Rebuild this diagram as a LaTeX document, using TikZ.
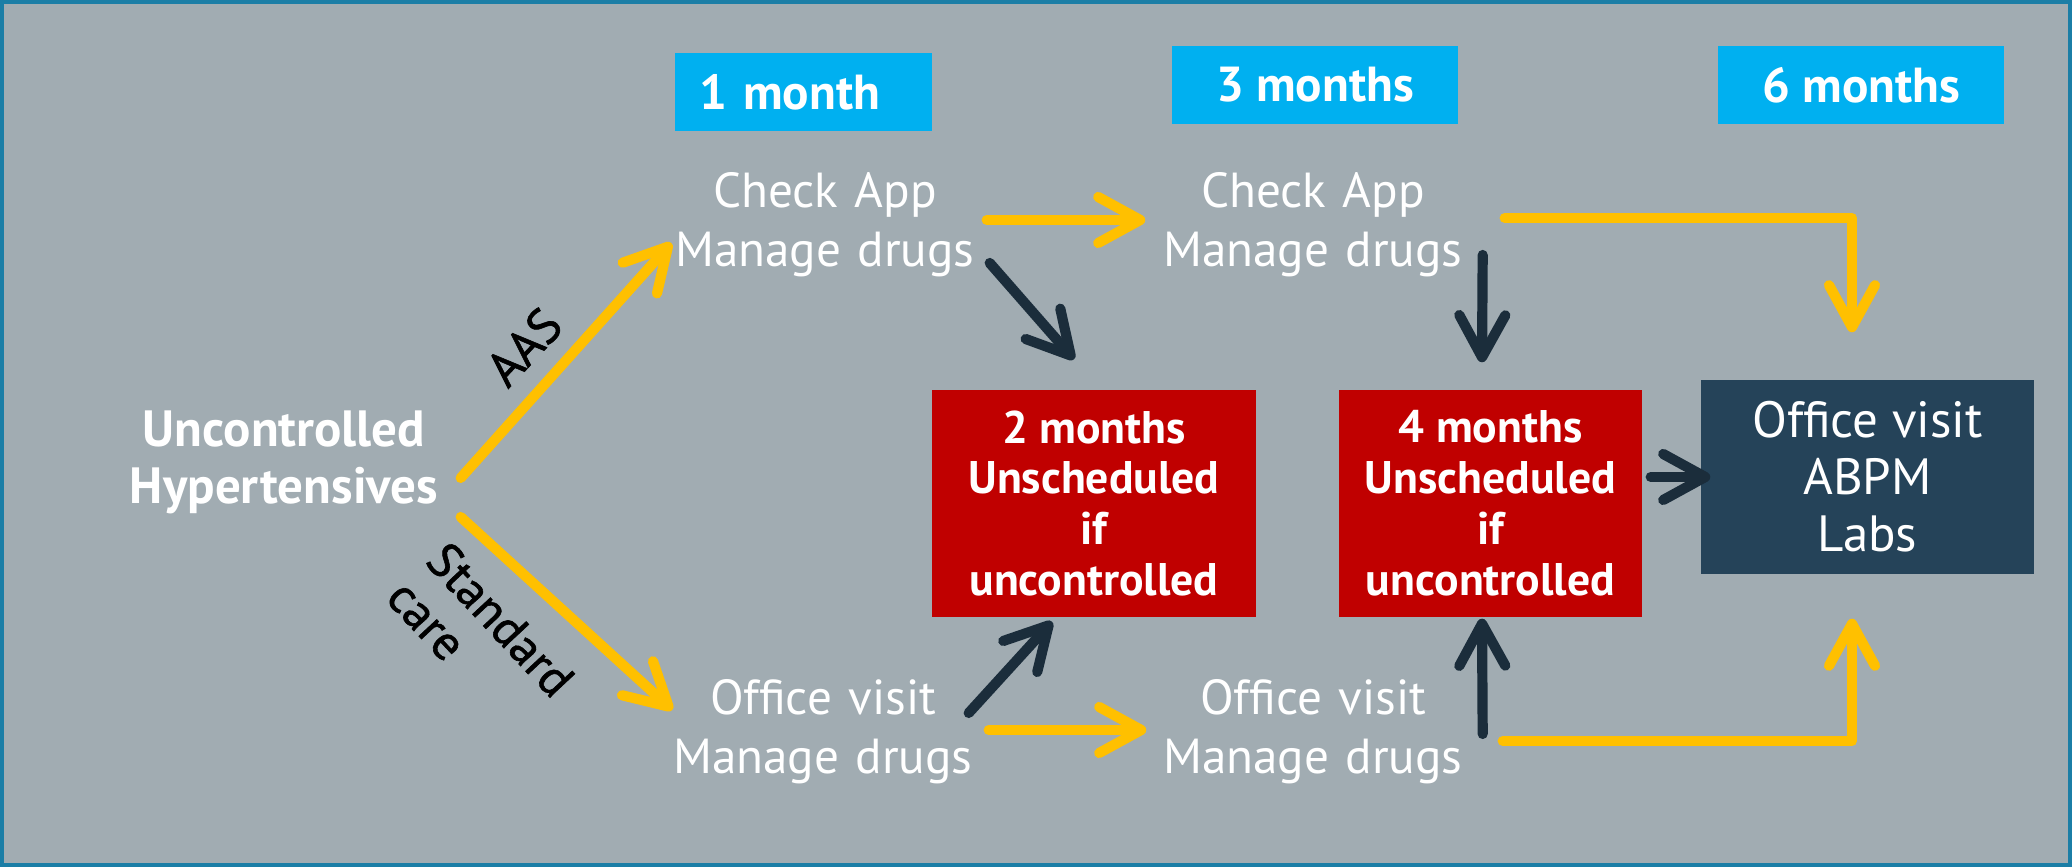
\documentclass[tikz,border=0pt]{standalone}
\usepackage{fontspec}
\setmainfont{PT Sans}
\newfontfamily\branchfont[FakeBold=1.2]{PT Sans}
\usetikzlibrary{arrows.meta}

\definecolor{bggray}{HTML}{A1ACB2}
\definecolor{frameteal}{HTML}{1B7EA6}
\definecolor{monthblue}{HTML}{00B0F0}
\definecolor{alertred}{HTML}{C00000}
\definecolor{navybox}{HTML}{254359}
\definecolor{arrowdark}{HTML}{1B2D3B}
\definecolor{arrowyellow}{HTML}{FFC000}

\tikzset{
    month/.style={fill=monthblue,text=white,inner sep=0pt,minimum height=0.78cm,
        font=\fontsize{14}{17}\selectfont\bfseries},
    visit/.style={text=white,align=center,text width=3.2cm,inner xsep=0pt,inner ysep=0.15cm,
        font=\fontsize{14}{16.8}\selectfont},
    redbox/.style={fill=alertred,text=white,align=center,minimum height=2.27cm,inner sep=0pt,
        font=\fontsize{13}{14.5}\selectfont\bfseries},
    navy/.style={fill=navybox,text=white,align=center,inner sep=0pt,
        font=\fontsize{14.5}{16.2}\selectfont},
    branch/.style={text=black,font=\branchfont\fontsize{14}{15.4}\selectfont},
    flow/.style={line width=2.9pt,line cap=round,line join=round,
        -{Straight Barb[length=4.2mm,width=4.6mm,round]}},
    yflow/.style={flow,draw=arrowyellow},
    dflow/.style={flow,draw=arrowdark}
}

\begin{document}
\begin{tikzpicture}
    \useasboundingbox (0,0) rectangle (20.72,8.67);
    \draw[frameteal,line width=1.1pt,fill=bggray] (0.02,0.02) rectangle (20.70,8.65);

    \node[month,text width=2.09cm,align=left,inner xsep=0.24cm] (m1) at (8.035,7.75) {1 month};
    \node[month,minimum width=2.86cm] (m3) at (13.15,7.82) {3 months};
    \node[month,minimum width=2.86cm] (m6) at (18.61,7.82) {6 months};

    \node[visit,text width=3.5cm,font=\fontsize{14.5}{16.2}\selectfont\bfseries] (unc) at (2.84,4.05) {Uncontrolled\\Hypertensives};
    \node[visit] (check1) at (8.25,6.42) {Check App\\Manage drugs};
    \node[visit] (check2) at (13.13,6.42) {Check App\\Manage drugs};
    \node[visit] (office1) at (8.23,1.35) {Office visit\\Manage drugs};
    \node[visit] (office2) at (13.13,1.35) {Office visit\\Manage drugs};

    \node[redbox,minimum width=3.24cm] (red1) at (10.94,3.635) {2 months\\Unscheduled\\if\\uncontrolled};
    \node[redbox,minimum width=3.03cm] (red2) at (14.905,3.635) {4 months\\Unscheduled\\if\\uncontrolled};
    \node[navy,minimum width=3.33cm,minimum height=1.94cm] (final) at (18.675,3.90) {Office visit\\ABPM\\Labs};

    \node[branch,rotate=47] (aas) at (5.24,5.20) {AAS};
    \node[branch,rotate=-47,align=left] (std) at (4.81,2.29) {Standard\\care};

    \draw[yflow] ([shift={(0.01,-0.16)}]unc.east) -- ([shift={(0.07,-0.18)}]check1.west);
    \draw[yflow] ([shift={(0.01,-0.55)}]unc.east) -- ([shift={(0.10,0.22)}]office1.west);
    \draw[yflow] ([shift={(0.01,0.05)}]check1.east) -- ([shift={(-0.07,0.05)}]check2.west);
    \draw[yflow] ([shift={(0.05,0.02)}]office1.east) -- ([shift={(-0.06,0.02)}]office2.west);
    \draw[yflow] ([shift={(0.31,0.07)}]check2.east) -| ([shift={(-0.155,0.47)}]final.north);
    \draw[yflow] ([shift={(0.29,-0.09)}]office2.east) -| ([shift={(-0.155,-0.44)}]final.south);

    \draw[dflow] ([shift={(0.04,-0.38)}]check1.east) -- ([shift={(-0.2,0.3)}]red1.north);
    \draw[dflow] ([shift={(-0.15,0.19)}]office1.east) -- ([shift={(-0.42,-0.04)}]red1.south);
    \draw[dflow] ([shift={(0.09,-0.30)}]check2.east) -- ([shift={(-0.085,0.27)}]red2.north);
    \draw[dflow] ([shift={(0.09,-0.02)}]office2.east) -- ([shift={(-0.085,-0.01)}]red2.south);
    \draw[dflow] ([xshift=0.8mm]red2.east |- final.west) -- ([xshift=1mm]final.west);
\end{tikzpicture}
\end{document}
